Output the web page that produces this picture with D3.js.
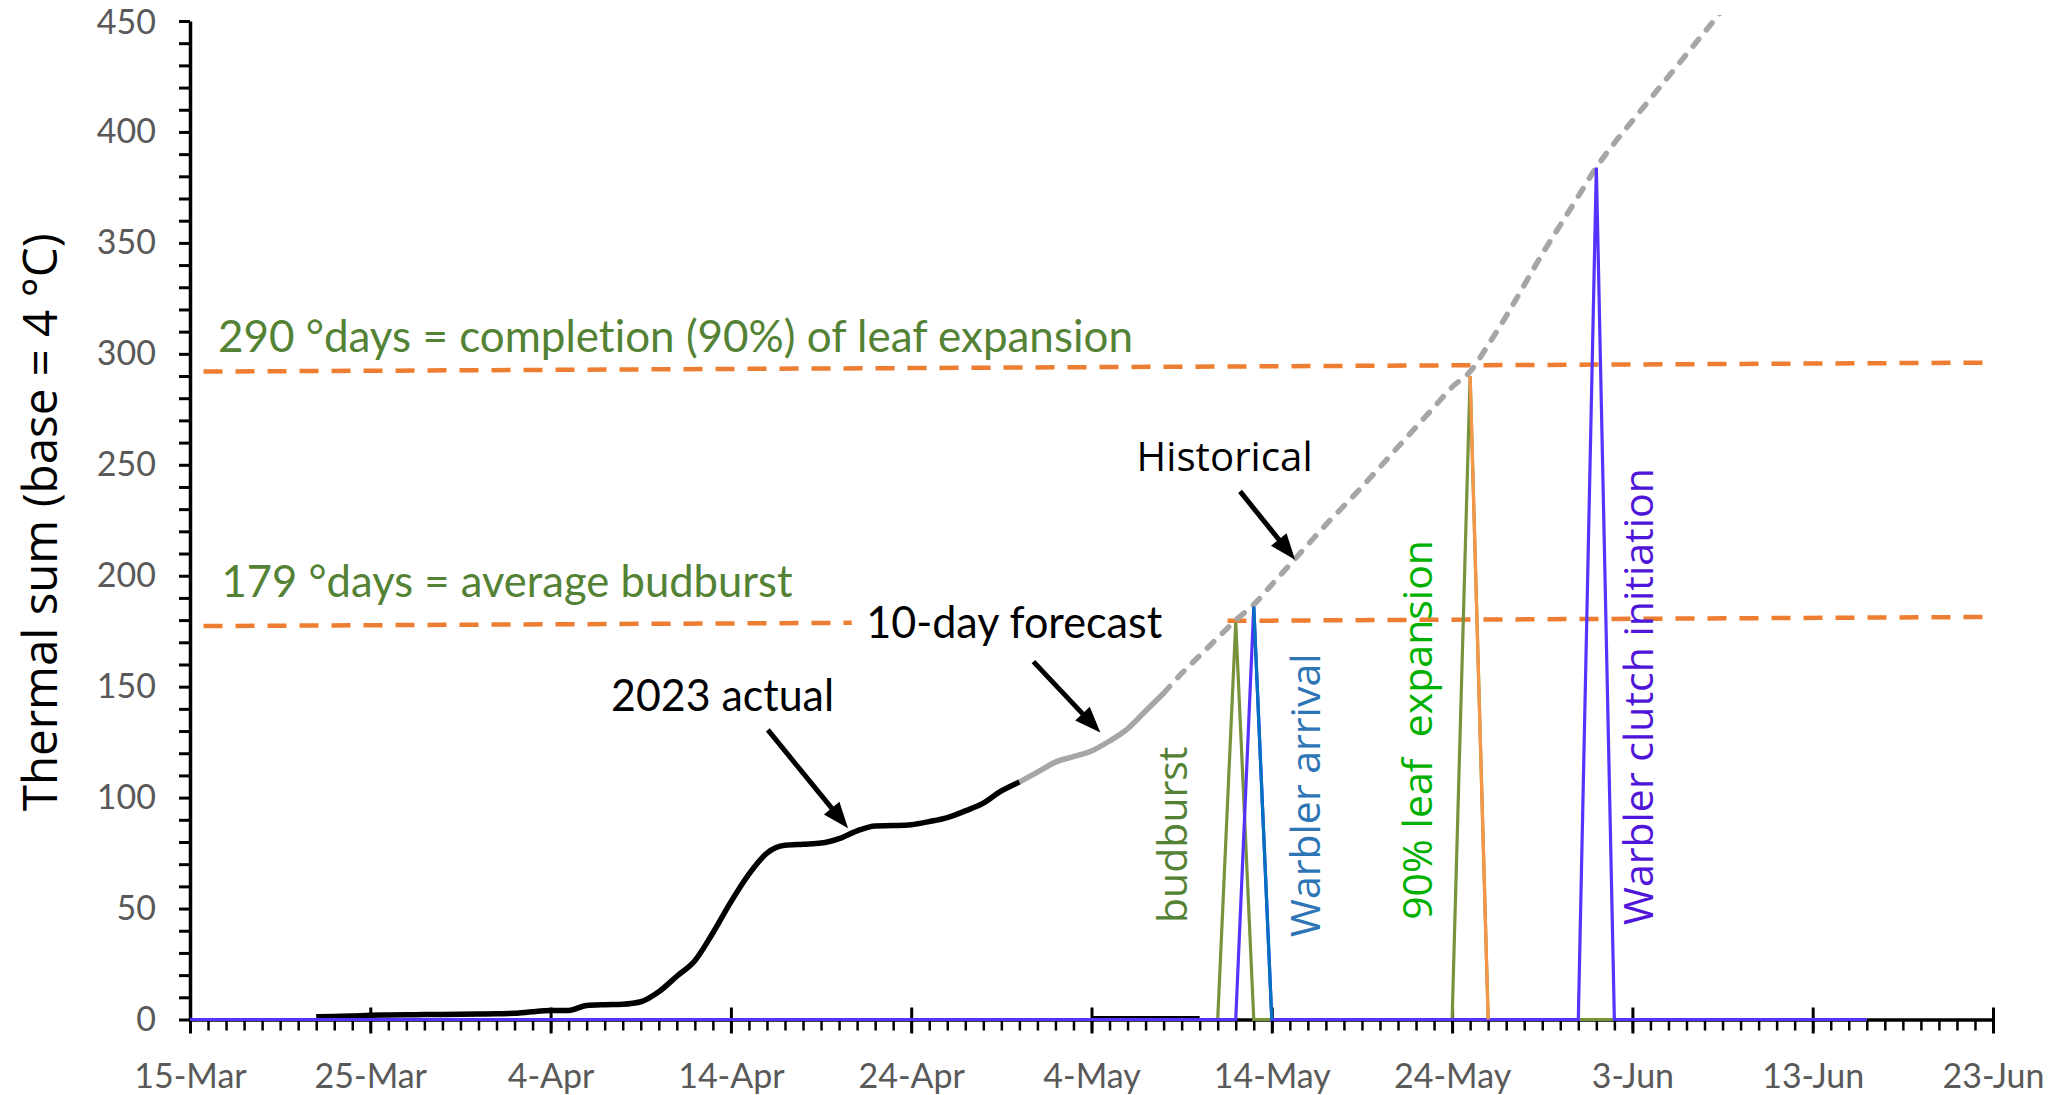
<!DOCTYPE html>
<html>
<head>
<meta charset="utf-8">
<script src="https://cdn.jsdelivr.net/npm/d3@7"></script>
<style>
  html, body { margin: 0; padding: 0; background: #fff; }
  svg { display: block; }
  text { font-variant-ligatures: none; font-feature-settings: "liga" 0, "clig" 0; }
</style>
</head>
<body>
<svg></svg>
<script>
(function (d3) {
  'use strict';

  // ---- data -------------------------------------------------------------
  const xStart = '2023-03-15';
  const xEnd = '2023-06-23';
  const yMajorTicks = [0, 50, 100, 150, 200, 250, 300, 350, 400, 450];
  const xTickLabels = ['15-Mar', '25-Mar', '4-Apr', '14-Apr', '24-Apr', '4-May',
                       '14-May', '24-May', '3-Jun', '13-Jun', '23-Jun'];

  // 2023 actual thermal sum, one value per day from 22-Mar
  const actualStart = '2023-03-22';
  const actualValues = [1.2, 1.4, 1.6, 1.9, 2.0, 2.1, 2.2, 2.3, 2.4, 2.5,
                        2.6, 2.8, 3.5, 4.0, 4.1, 6.3, 6.7, 6.9, 8.0, 12.5,
                        19.5, 26.5, 39, 53, 65.5, 75, 78.5, 79, 79.5, 81.5,
                        85, 87.2, 87.4, 87.8, 89.2, 91, 94, 97.5, 103, 107];
  const actualTailDates = ['2023-05-04', '2023-05-10'];
  const actualTailValues = [0.9, 0.9];

  // 10-day forecast, daily from 30-Apr
  const forecastStart = '2023-04-30';
  const forecastValues = [107, 111.5, 116, 118.5, 121, 125.5, 131, 139, 147];

  // historical average, daily from 8-May
  const historicalStart = '2023-05-08';
  const historicalValues = [147, 156, 164, 172, 180, 187, 196, 205, 214, 223,
                            231.5, 240, 249, 258, 267, 276, 285, 292, 304, 317,
                            331, 345, 358, 371, 384, 395, 405, 415, 425, 435,
                            445, 455];

  // thresholds (hand drawn, slightly sloped in the original)
  const upperDates = ['2023-03-15T18:00', '2023-06-22T10:00'];
  const upperValues = [292, 296];
  const lowerDates = ['2023-03-15T18:00', '2023-06-22T10:00'];
  const lowerValues = [177.3, 181.4];

  // event spikes
  const leafDates = ['2023-03-15', '2023-05-11', '2023-05-12', '2023-05-13',
                     '2023-05-24', '2023-05-25', '2023-05-26', '2023-06-16'];
  const leafValues = [0, 0, 179, 0, 0, 290, 0, 0];
  const warblerDates = ['2023-03-15', '2023-05-12', '2023-05-13', '2023-05-14',
                        '2023-05-31', '2023-06-01', '2023-06-02', '2023-06-16'];
  const warblerValues = [0, 0, 186, 0, 0, 384, 0, 0];
  const arrivalDates = ['2023-05-13', '2023-05-14'];
  const arrivalValues = [186, 0];
  const expansionDates = ['2023-05-25', '2023-05-26'];
  const expansionValues = [290, 0];

  // ---- setup ------------------------------------------------------------
  const width = 2055;
  const height = 1095;
  const parse = s => new Date(s + (s.length > 10 ? ':00Z' : 'T00:00:00Z'));
  const dayAt = d => new Date(parse(xStart).getTime() + d * 864e5);
  const daily = (start, vals) => vals.map((v, i) => [d3.utcDay.offset(parse(start), i), v]);
  const pairs = (dates, vals) => dates.map((d, i) => [parse(d), vals[i]]);

  const svg = d3.select('svg')
      .attr('width', width)
      .attr('height', height)
      .style('background', '#fff');

  const x = d3.scaleUtc()
      .domain([parse(xStart), parse(xEnd)])
      .range([190, 1993]);
  const y = d3.scaleLinear()
      .domain([0, 450])
      .range([1019.5, 21]);

  const tickFont = "Lato, 'Liberation Sans', sans-serif";
  const noteFont = "Lato, 'Liberation Sans', sans-serif";
  const uiFont = "'Open Sans', 'DejaVu Sans', sans-serif";

  // ---- axes -------------------------------------------------------------
  const yTickVals = d3.range(0, 451, 10);
  const gy = svg.append('g')
      .attr('transform', `translate(${x.range()[0]},0)`)
      .call(d3.axisLeft(y)
        .tickValues(yTickVals)
        .tickSize(11)
        .tickSizeOuter(0)
        .tickPadding(23)
        .tickFormat(d => yMajorTicks.includes(d) ? d : ''));
  gy.select('.domain').attr('stroke', '#000').attr('stroke-width', 3.5);
  gy.selectAll('.tick line').attr('stroke', '#000').attr('stroke-width', 3);
  gy.selectAll('.tick text')
      .attr('fill', '#595959')
      .attr('dy', d => d === 450 ? '0.38em' : '0.32em')
      .style('font-family', tickFont)
      .style('font-size', '34px');

  const minorDays = d3.utcDay.range(parse(xStart), d3.utcDay.offset(parse(xEnd), 1));
  const majorDays = d3.utcDay.range(parse(xStart), d3.utcDay.offset(parse(xEnd), 1), 10);

  const gx = svg.append('g')
      .attr('transform', `translate(0,${y(0)})`)
      .call(d3.axisBottom(x)
        .tickValues(minorDays)
        .tickSize(11)
        .tickSizeOuter(0)
        .tickFormat(''));
  gx.select('.domain').attr('stroke', '#000').attr('stroke-width', 3.5);
  gx.selectAll('.tick line').attr('stroke', '#000').attr('stroke-width', 2.5);

  const gxMajor = svg.append('g')
      .attr('transform', `translate(0,${y(0)})`)
      .call(d3.axisBottom(x)
        .tickValues(majorDays)
        .tickSize(14)
        .tickSizeOuter(0)
        .tickPadding(30)
        .tickFormat((d, i) => xTickLabels[i]));
  gxMajor.select('.domain').remove();
  gxMajor.selectAll('.tick line')
      .attr('y1', -12)
      .attr('stroke', '#000')
      .attr('stroke-width', 3);
  gxMajor.selectAll('.tick text')
      .attr('y', 68)
      .attr('dy', 0)
      .attr('fill', '#595959')
      .style('font-family', tickFont)
      .style('font-size', '34px');

  // ---- series -----------------------------------------------------------
  const line = d3.line()
      .x(d => x(d[0]))
      .y(d => y(d[1]));
  const smooth = d3.line()
      .x(d => x(d[0]))
      .y(d => y(d[1]))
      .curve(d3.curveMonotoneX);

  svg.append('clipPath').attr('id', 'plot')
    .append('rect')
      .attr('x', x.range()[0]).attr('y', y(450) - 6)
      .attr('width', x.range()[1] - x.range()[0])
      .attr('height', y(0) - y(450) + 12);

  const plot = svg.append('g').attr('clip-path', 'url(#plot)');

  [[upperDates, upperValues], [lowerDates, lowerValues]].forEach(([ds, vs]) => {
    plot.append('path')
        .attr('d', line(pairs(ds, vs)))
        .attr('fill', 'none')
        .attr('stroke', '#ed7d31')
        .attr('stroke-width', 4.5)
        .attr('stroke-dasharray', '19 13');
  });

  // white text box of the "10-day forecast" label hides part of the threshold
  plot.append('rect')
      .attr('x', x(dayAt(36.7)))
      .attr('y', y(189))
      .attr('width', x(dayAt(56.85)) - x(dayAt(36.7)))
      .attr('height', y(166) - y(189))
      .attr('fill', '#fff');

  plot.append('path')
      .attr('d', smooth(daily(historicalStart, historicalValues)))
      .attr('fill', 'none')
      .attr('stroke', '#a6a6a6')
      .attr('stroke-width', 5.5)
      .attr('stroke-linecap', 'round')
      .attr('stroke-dasharray', '9 12');

  plot.append('path')
      .attr('d', line(pairs(actualTailDates, actualTailValues)))
      .attr('fill', 'none')
      .attr('stroke', '#000')
      .attr('stroke-width', 3);

  plot.append('path')
      .attr('d', smooth(daily(forecastStart, forecastValues)))
      .attr('fill', 'none')
      .attr('stroke', '#a6a6a6')
      .attr('stroke-width', 5.5);

  plot.append('path')
      .attr('d', smooth(daily(actualStart, actualValues)))
      .attr('fill', 'none')
      .attr('stroke', '#000')
      .attr('stroke-width', 5.5)
      .attr('stroke-linejoin', 'round');

  const spikes = [
    [leafDates, leafValues, '#77933c'],
    [warblerDates, warblerValues, '#5533ff'],
    [arrivalDates, arrivalValues, '#0070c0'],
    [expansionDates, expansionValues, '#f79646']
  ];
  spikes.forEach(([ds, vs, c]) => {
    plot.append('path')
        .attr('d', line(pairs(ds, vs)))
        .attr('fill', 'none')
        .attr('stroke', c)
        .attr('stroke-width', 3.2)
        .attr('stroke-linejoin', 'miter');
  });

  // ---- annotations ------------------------------------------------------
  const notes = [
    { text: '290 °days = completion (90%) of leaf expansion', day: 1.55, value: 301, color: '#548235', font: noteFont, size: 44, len: 915 },
    { text: '179 °days = average budburst', day: 1.75, value: 190.5, color: '#548235', font: noteFont, size: 44, len: 571 },
    { text: '10-day forecast', day: 37.5, value: 172, color: '#000', font: noteFont, size: 44, len: 296 },
    { text: '2023 actual', day: 23.35, value: 139, color: '#000', font: noteFont, size: 44, len: 223 },
    { text: 'Historical', day: 52.5, value: 247, color: '#000', font: uiFont, size: 40, len: 176 }
  ];
  svg.selectAll('text.note').data(notes)
    .enter().append('text')
      .attr('class', 'note')
      .attr('x', d => x(dayAt(d.day)))
      .attr('y', d => y(d.value))
      .attr('fill', d => d.color)
      .attr('textLength', d => d.len)
      .attr('lengthAdjust', 'spacingAndGlyphs')
      .style('font-family', d => d.font)
      .style('font-size', d => d.size + 'px')
      .text(d => d.text);

  const eventLabels = [
    { text: 'budburst', day: 55.3, value: 43.5, color: '#548235' },
    { text: 'Warbler arrival', day: 62.67, value: 37.2, color: '#2e75b6' },
    { text: '90% leaf\u00a0 expansion', day: 68.88, value: 44.9, color: '#00b000' },
    { text: 'Warbler clutch initiation', day: 81.14, value: 42.6, color: '#4f16d9' }
  ];
  svg.selectAll('text.event').data(eventLabels)
    .enter().append('text')
      .attr('class', 'event')
      .attr('transform', d => `translate(${x(dayAt(d.day))},${y(d.value)}) rotate(-90)`)
      .attr('fill', d => d.color)
      .style('font-family', uiFont)
      .style('font-size', '41px')
      .text(d => d.text);

  const arrows = [
    { from: [32.05, 130.5], to: [36.5, 86.2] },
    { from: [46.78, 161.3], to: [50.49, 129.3] },
    { from: [58.24, 238], to: [61.29, 207.2] }
  ];
  const headLen = 26, headHalf = 10;
  arrows.forEach(a => {
    const x1 = x(dayAt(a.from[0])), y1 = y(a.from[1]);
    const x2 = x(dayAt(a.to[0])), y2 = y(a.to[1]);
    const len = Math.hypot(x2 - x1, y2 - y1);
    const ux = (x2 - x1) / len, uy = (y2 - y1) / len;
    const bx = x2 - ux * headLen, by = y2 - uy * headLen;
    svg.append('line')
        .attr('x1', x1).attr('y1', y1)
        .attr('x2', bx + ux * 2).attr('y2', by + uy * 2)
        .attr('stroke', '#000')
        .attr('stroke-width', 5);
    svg.append('path')
        .attr('d', `M${x2},${y2}L${bx - uy * headHalf},${by + ux * headHalf}L${bx + uy * headHalf},${by - ux * headHalf}Z`)
        .attr('fill', '#000');
  });

  // y axis title
  svg.append('text')
      .attr('transform', `translate(57,${(y(0) + y(450)) / 2 + 2})rotate(-90)`)
      .attr('text-anchor', 'middle')
      .attr('fill', '#000')
      .attr('textLength', 578)
      .attr('lengthAdjust', 'spacingAndGlyphs')
      .style('font-family', uiFont)
      .style('font-size', '48px')
      .text('Thermal sum (base = 4 °C)');

}(d3));
</script>
</body>
</html>
